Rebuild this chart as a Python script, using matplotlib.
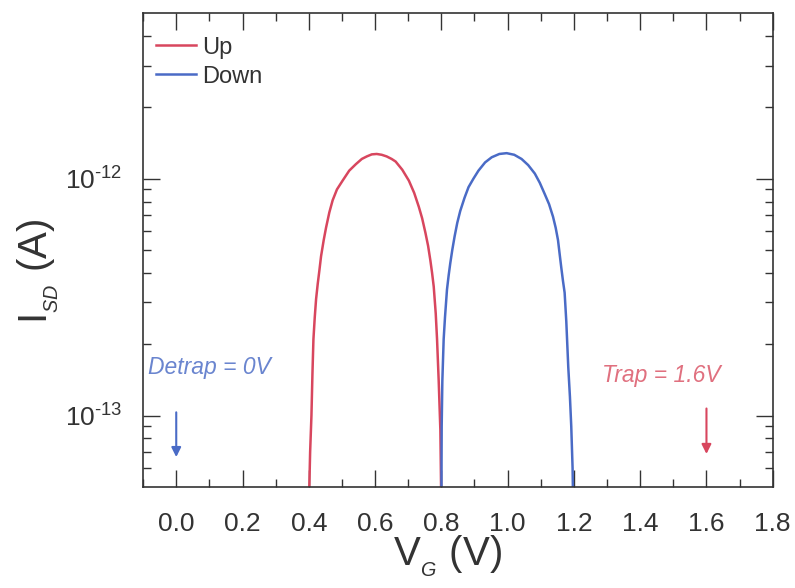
import numpy as np
import matplotlib
matplotlib.use('Agg')
import matplotlib.pyplot as plt
from matplotlib.ticker import FixedLocator, FuncFormatter, NullFormatter

plt.rcParams['font.family'] = ['Liberation Sans', 'DejaVu Sans']
plt.rcParams['mathtext.fontset'] = 'custom'
plt.rcParams['mathtext.rm'] = 'Liberation Sans'
plt.rcParams['mathtext.it'] = 'Liberation Sans:italic'
plt.rcParams['mathtext.default'] = 'regular'
plt.rcParams['axes.unicode_minus'] = False

# sweep up (red)
vg_up = [0.400, 0.404, 0.408, 0.411, 0.414, 0.418, 0.422, 0.427, 0.432, 0.437, 0.445, 0.452,
         0.462, 0.472, 0.485, 0.502, 0.522, 0.542, 0.560, 0.575, 0.590, 0.605, 0.620, 0.635,
         0.650, 0.662, 0.682, 0.702, 0.718, 0.732, 0.742, 0.752, 0.760, 0.767, 0.772, 0.777,
         0.783, 0.787, 0.792, 0.797, 0.800]
isd_up = [4.0e-14, 7.0e-14, 1.0e-13, 1.5e-13, 2.1e-13, 2.6e-13, 3.1e-13, 3.6e-13, 4.1e-13, 4.7e-13, 5.5e-13, 6.2e-13,
          7.2e-13, 8.1e-13, 9.0e-13, 9.8e-13, 1.08e-12, 1.15e-12, 1.21e-12, 1.24e-12, 1.265e-12, 1.27e-12, 1.26e-12, 1.24e-12,
          1.21e-12, 1.18e-12, 1.09e-12, 9.8e-13, 8.7e-13, 7.6e-13, 6.8e-13, 5.9e-13, 5.2e-13, 4.5e-13, 4.0e-13, 3.5e-13,
          2.7e-13, 2.1e-13, 1.4e-13, 8.7e-14, 4.0e-14]

# sweep down (blue)
vg_down = [0.800, 0.801, 0.803, 0.807, 0.811, 0.817, 0.822, 0.827, 0.833, 0.840, 0.848, 0.857,
           0.870, 0.882, 0.897, 0.912, 0.932, 0.952, 0.975, 0.997, 1.020, 1.042, 1.062, 1.082,
           1.097, 1.112, 1.125, 1.137, 1.145, 1.152, 1.157, 1.162, 1.167, 1.172, 1.177, 1.183,
           1.188, 1.192, 1.196, 1.198]
isd_down = [4.0e-14, 9.0e-14, 1.4e-13, 2.1e-13, 2.6e-13, 3.4e-13, 3.9e-13, 4.4e-13, 5.0e-13, 5.7e-13, 6.5e-13, 7.3e-13,
            8.3e-13, 9.2e-13, 1.0e-12, 1.08e-12, 1.17e-12, 1.23e-12, 1.27e-12, 1.28e-12, 1.26e-12, 1.21e-12, 1.14e-12, 1.05e-12,
            9.6e-13, 8.6e-13, 7.8e-13, 6.9e-13, 6.2e-13, 5.5e-13, 4.8e-13, 4.2e-13, 3.7e-13, 3.3e-13, 2.5e-13, 1.6e-13,
            1.2e-13, 9.0e-14, 6.0e-14, 4.0e-14]

x_ticks = [0.0, 0.2, 0.4, 0.6, 0.8, 1.0, 1.2, 1.4, 1.6, 1.8]
y_ticks = [1e-13, 1e-12]

# arrows and their notes: (x, y_start, y_end)
detrap_arrow = (0.0, 1.06e-13, 6.5e-14)
trap_arrow = (1.6, 1.1e-13, 6.7e-14)
detrap_note = (-0.085, 1.6e-13, 'Detrap = 0V')
trap_note = (1.284, 1.47e-13, 'Trap = 1.6V')

red = '#d8465e'
blue = '#4a6bc6'
dark = '#333333'

fig = plt.figure(figsize=(7.95, 5.88), dpi=100)
ax = fig.add_axes([0.180, 0.172, 0.792, 0.806])

ax.plot(vg_up, isd_up, color=red, lw=1.8, label='Up')
ax.plot(vg_down, isd_down, color=blue, lw=1.8, label='Down')

ax.set_yscale('log')
ax.set_xlim(-0.1, 1.8)
ax.set_ylim(5e-14, 5e-12)

ax.xaxis.set_major_locator(FixedLocator(x_ticks))
ax.xaxis.set_major_formatter(FuncFormatter(lambda v, p: '%.1f' % v))
ax.xaxis.set_minor_locator(FixedLocator(np.arange(-0.1, 1.75, 0.2)))
ax.yaxis.set_major_locator(FixedLocator(y_ticks))
ax.yaxis.set_major_formatter(FuncFormatter(
    lambda v, p: r'$10^{\text{-}%d}$' % round(-np.log10(v))))
minor_y = [m * 10.0 ** e for e in (-14, -13, -12) for m in range(2, 10)
           if 5e-14 < m * 10.0 ** e < 5e-12]
ax.yaxis.set_minor_locator(FixedLocator(minor_y))
ax.yaxis.set_minor_formatter(NullFormatter())

ax.tick_params(which='both', direction='in', top=True, right=True, colors=dark,
               labelsize=19, width=1.0)
ax.tick_params(which='major', length=12)
ax.tick_params(which='minor', length=6)
ax.tick_params(axis='x', which='major', pad=18)
ax.tick_params(axis='y', which='major', pad=15)
for s in ax.spines.values():
    s.set_color(dark)
    s.set_linewidth(1.2)

ax.set_xlabel(r'V$_{_{\mathit{G}}}$ (V)', fontsize=29, color=dark)
ax.set_ylabel(r'I$_{_{\mathit{SD}}}$ (A)', fontsize=29, color=dark)
ax.xaxis.set_label_coords(0.484, -0.100)
ax.yaxis.set_label_coords(-0.130, 0.454)

leg = ax.legend(loc='upper left', bbox_to_anchor=(-0.006, 0.985), frameon=False, fontsize=17,
                handlelength=1.7, handletextpad=0.25, labelspacing=0.3, borderaxespad=0.3)
for t in leg.get_texts():
    t.set_color(dark)

for (x, y0, y1), c in [(detrap_arrow, blue), (trap_arrow, red)]:
    ax.annotate('', xy=(x, y1), xytext=(x, y0),
                arrowprops=dict(arrowstyle='-|>', color=c, lw=1.5, mutation_scale=14))

ax.text(detrap_note[0], detrap_note[1], detrap_note[2], color='#6a85cf', fontsize=16.5,
        style='italic', va='center', ha='left')
ax.text(trap_note[0], trap_note[1], trap_note[2], color='#e0707f', fontsize=16.5,
        style='italic', va='center', ha='left')

fig.savefig('out.png', dpi=100)
